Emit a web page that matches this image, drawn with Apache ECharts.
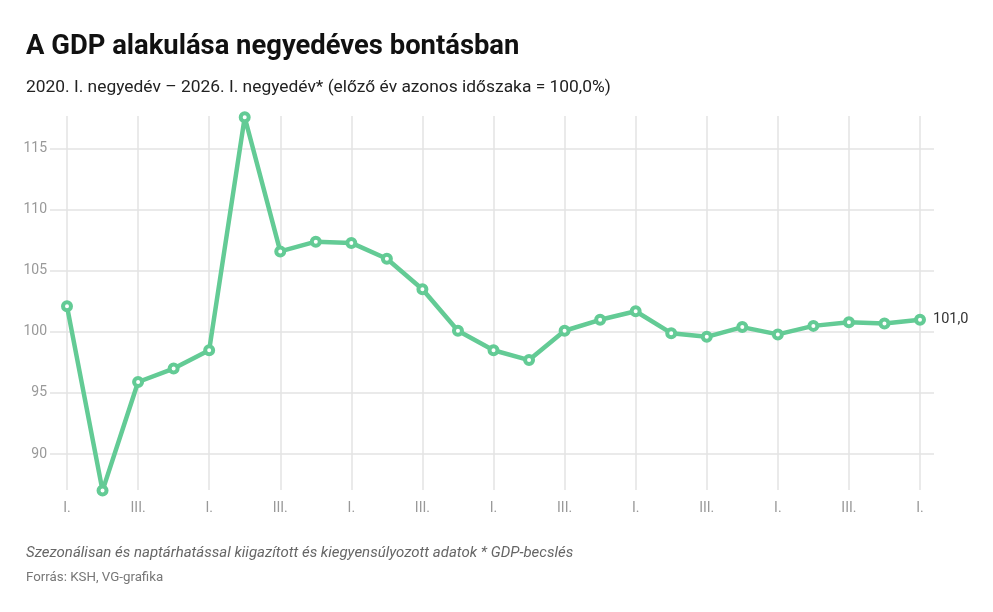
<!DOCTYPE html>
<html>
<head>
<meta charset="utf-8">
<script src="https://cdn.jsdelivr.net/npm/echarts@6/dist/echarts.min.js"></script>
<style>
  html, body { margin: 0; padding: 0; background: #fff; }
  #chart { width: 993px; height: 612px; }
</style>
</head>
<body>
<div id="chart"></div>
<script>
// negyedévek: 2020. I. – 2026. I.
var quarters = ['I.', 'II.', 'III.', 'IV.', 'I.', 'II.', 'III.', 'IV.', 'I.', 'II.', 'III.', 'IV.',
  'I.', 'II.', 'III.', 'IV.', 'I.', 'II.', 'III.', 'IV.', 'I.', 'II.', 'III.', 'IV.', 'I.'];
// előző év azonos időszaka = 100
var gdp = [102.1, 87.0, 95.9, 97.0, 98.5, 117.6, 106.6, 107.4, 107.3, 106.0, 103.5, 100.1,
  98.5, 97.7, 100.1, 101.0, 101.7, 99.9, 99.6, 100.4, 99.8, 100.5, 100.8, 100.7, 101.0];
var yMin = 87.05;
var yMax = 117.7;

var green = '#63cb95';
var chart = echarts.init(document.getElementById('chart'));

var option = {
  animation: false,
  backgroundColor: '#fff',
  textStyle: { fontFamily: 'Roboto' },
  title: [
    {
      text: 'A GDP alakulása negyedéves bontásban',
      left: 21, top: 29,
      textStyle: { fontSize: 27.4, fontWeight: 'bold', color: '#111', fontFamily: 'Roboto' }
    },
    {
      text: '2020. I. negyedév – 2026. I. negyedév* (előző év azonos időszaka = 100,0%)',
      left: 21, top: 74,
      textStyle: { fontSize: 17.4, fontWeight: 'normal', color: '#222', fontFamily: 'Roboto' }
    },
    {
      text: 'Szezonálisan és naptárhatással kiigazított és kiegyensúlyozott adatok * GDP-becslés',
      left: 21, top: 541,
      textStyle: { fontSize: 15, fontWeight: 'normal', fontStyle: 'italic', color: '#666', fontFamily: 'Roboto' }
    },
    {
      text: 'Forrás: KSH, VG-grafika',
      left: 21, top: 566,
      textStyle: { fontSize: 13.3, fontWeight: 'normal', color: '#777', fontFamily: 'Roboto' }
    }
  ],
  grid: [
    // vízszintes rácsvonalak, szélesebb
    { left: 50, right: 59, top: 116, bottom: 122 },
    // adatok, függőleges rácsvonalak
    { left: 67, right: 73, top: 116, bottom: 122 }
  ],
  xAxis: [
    {
      gridIndex: 0, type: 'value', min: 0, max: 1, show: false
    },
    {
      gridIndex: 1,
      type: 'category',
      data: quarters,
      boundaryGap: false,
      axisLine: { show: false },
      axisTick: { show: false },
      axisLabel: { interval: 1, color: '#999', fontSize: 14, margin: 11 },
      splitLine: { show: true, interval: 1, lineStyle: { color: '#e3e3e3', width: 1.5 } }
    }
  ],
  yAxis: [
    {
      gridIndex: 0,
      type: 'value',
      min: yMin, max: yMax,
      splitNumber: 5,
      axisLine: { show: false },
      axisTick: { show: false },
      axisLabel: { color: '#999', fontSize: 14, margin: 3, showMinLabel: false, showMaxLabel: false },
      splitLine: { show: true, showMinLine: false, showMaxLine: false, lineStyle: { color: '#e3e3e3', width: 1.5 } }
    },
    {
      gridIndex: 1,
      type: 'value',
      min: yMin, max: yMax,
      show: false,
      splitLine: { show: false }
    }
  ],
  series: [
    {
      type: 'line',
      xAxisIndex: 1,
      yAxisIndex: 1,
      data: gdp,
      clip: false,
      lineStyle: { color: green, width: 4.5 },
      itemStyle: { color: '#fff', borderColor: green, borderWidth: 4 },
      symbol: 'circle',
      symbolSize: 8,
      showAllSymbol: true,
      endLabel: {
        show: true,
        color: '#333',
        fontSize: 14.5,
        distance: 13,
        formatter: function (p) { return p.value.toFixed(1).replace('.', ','); }
      },
      z: 5
    }
  ]
};

chart.setOption(option);
</script>
</body>
</html>
